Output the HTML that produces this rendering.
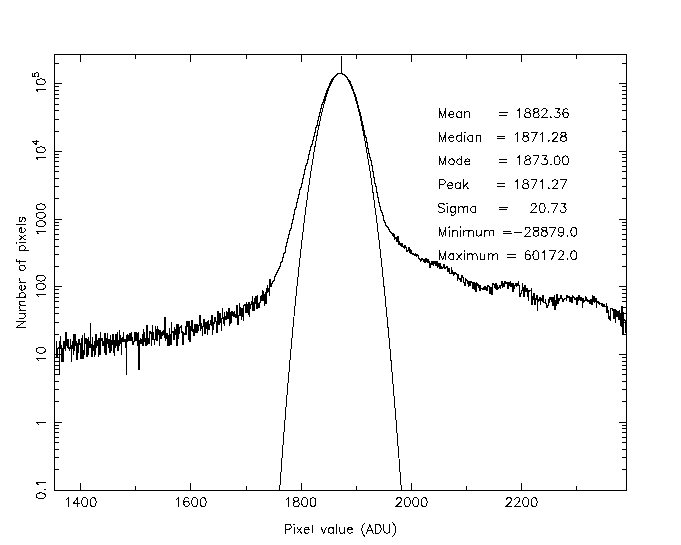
<!DOCTYPE html>
<html><head><meta charset="utf-8"><title>Histogram</title>
<style>
html,body{margin:0;padding:0;background:#fff;font-family:"Liberation Sans",sans-serif;}
body{width:681px;height:545px;overflow:hidden;}
svg{display:block;}
</style></head><body>
<svg width="681" height="545" viewBox="0 0 681 545" shape-rendering="crispEdges">
<rect width="681" height="545" fill="#fff"/>
<g fill="none" stroke="#000" stroke-width="1" stroke-linecap="square">
<path d="M54.5 54.5H626.5V490.5H54.5Z"/>
<path d="M80.5 55v7M80.5 490v-7M190.5 55v7M190.5 490v-7M301.5 55v7M301.5 490v-7M411.5 55v7M411.5 490v-7M521.5 55v7M521.5 490v-7M135.5 55v4M135.5 490v-4M246.5 55v4M246.5 490v-4M356.5 55v4M356.5 490v-4M466.5 55v4M466.5 490v-4M576.5 55v4M576.5 490v-4M55 469.5h4M626 469.5h-4M55 457.5h4M626 457.5h-4M55 449.5h4M626 449.5h-4M55 442.5h4M626 442.5h-4M55 437.5h4M626 437.5h-4M55 432.5h4M626 432.5h-4M55 428.5h4M626 428.5h-4M55 425.5h4M626 425.5h-4M55 422.5h7M626 422.5h-7M55 401.5h4M626 401.5h-4M55 389.5h4M626 389.5h-4M55 381.5h4M626 381.5h-4M55 374.5h4M626 374.5h-4M55 369.5h4M626 369.5h-4M55 365.5h4M626 365.5h-4M55 361.5h4M626 361.5h-4M55 357.5h4M626 357.5h-4M55 354.5h7M626 354.5h-7M55 334.5h4M626 334.5h-4M55 322.5h4M626 322.5h-4M55 313.5h4M626 313.5h-4M55 307.5h4M626 307.5h-4M55 301.5h4M626 301.5h-4M55 297.5h4M626 297.5h-4M55 293.5h4M626 293.5h-4M55 289.5h4M626 289.5h-4M55 286.5h7M626 286.5h-7M55 266.5h4M626 266.5h-4M55 254.5h4M626 254.5h-4M55 246.5h4M626 246.5h-4M55 239.5h4M626 239.5h-4M55 234.5h4M626 234.5h-4M55 229.5h4M626 229.5h-4M55 225.5h4M626 225.5h-4M55 222.5h4M626 222.5h-4M55 219.5h7M626 219.5h-7M55 198.5h4M626 198.5h-4M55 186.5h4M626 186.5h-4M55 178.5h4M626 178.5h-4M55 171.5h4M626 171.5h-4M55 166.5h4M626 166.5h-4M55 161.5h4M626 161.5h-4M55 157.5h4M626 157.5h-4M55 154.5h4M626 154.5h-4M55 151.5h7M626 151.5h-7M55 131.5h4M626 131.5h-4M55 119.5h4M626 119.5h-4M55 110.5h4M626 110.5h-4M55 104.5h4M626 104.5h-4M55 98.5h4M626 98.5h-4M55 94.5h4M626 94.5h-4M55 90.5h4M626 90.5h-4M55 86.5h4M626 86.5h-4M55 83.5h7M626 83.5h-7M55 63.5h4M626 63.5h-4" stroke-linecap="butt"/>
</g>
<g fill="none" stroke="#000" stroke-width="1" stroke-linejoin="miter" stroke-linecap="butt">
<path d="M279.65 490L280.12 483.59L280.59 477.23L281.06 470.93L281.53 464.67L282 458.46L282.47 452.3L282.94 446.19L283.41 440.13L283.88 434.12L284.35 428.16L284.82 422.25L285.29 416.39L285.76 410.58L286.23 404.81L286.7 399.1L287.17 393.44L287.64 387.83L288.11 382.26L288.58 376.75L289.05 371.29L289.52 365.87L289.99 360.51L290.46 355.19L290.93 349.93L291.4 344.71L291.87 339.55L292.34 334.43L292.81 329.36L293.28 324.35L293.75 319.38L294.22 314.46L294.69 309.59L295.16 304.78L295.63 300.01L296.1 295.29L296.57 290.62L297.04 286L297.51 281.43L297.98 276.91L298.45 272.44L298.92 268.02L299.39 263.65L299.86 259.33L300.33 255.05L300.8 250.83L301.27 246.66L301.74 242.54L302.21 238.46L302.68 234.44L303.15 230.47L303.62 226.54L304.09 222.67L304.56 218.84L305.03 215.07L305.5 211.34L305.97 207.67L306.44 204.04L306.91 200.47L307.38 196.94L307.85 193.46L308.32 190.04L308.78 186.66L309.25 183.33L309.72 180.05L310.19 176.82L310.66 173.64L311.13 170.51L311.6 167.43L312.07 164.4L312.54 161.42L313.01 158.49L313.48 155.61L313.95 152.78L314.42 150L314.89 147.27L315.36 144.59L315.83 141.95L316.3 139.37L316.77 136.84L317.24 134.35L317.71 131.92L318.18 129.54L318.65 127.2L319.12 124.92L319.59 122.68L320.06 120.5L320.53 118.36L321 116.27L321.47 114.24L321.94 112.25L322.41 110.31L322.88 108.43L323.35 106.59L323.82 104.8L324.29 103.06L324.76 101.37L325.23 99.73L325.7 98.14L326.17 96.6L326.64 95.11L327.11 93.67L327.58 92.28L328.05 90.94L328.52 89.65L328.99 88.41L329.46 87.22L329.93 86.07L330.4 84.98L330.87 83.94L331.34 82.94L331.81 82L332.28 81.11L332.75 80.26L333.22 79.47L333.69 78.72L334.16 78.03L334.63 77.38L335.1 76.78L335.57 76.24L336.04 75.74L336.51 75.29L336.98 74.9L337.45 74.55L337.92 74.25L338.39 74L338.86 73.8L339.33 73.66L339.8 73.56L340.27 73.51L340.73 73.51L341.2 73.56L341.67 73.66L342.14 73.8L342.61 74L343.08 74.25L343.55 74.55L344.02 74.9L344.49 75.29L344.96 75.74L345.43 76.24L345.9 76.78L346.37 77.38L346.84 78.03L347.31 78.72L347.78 79.47L348.25 80.26L348.72 81.11L349.19 82L349.66 82.94L350.13 83.94L350.6 84.98L351.07 86.07L351.54 87.22L352.01 88.41L352.48 89.65L352.95 90.94L353.42 92.28L353.89 93.67L354.36 95.11L354.83 96.6L355.3 98.14L355.77 99.73L356.24 101.37L356.71 103.06L357.18 104.8L357.65 106.59L358.12 108.43L358.59 110.31L359.06 112.25L359.53 114.24L360 116.27L360.47 118.36L360.94 120.5L361.41 122.68L361.88 124.92L362.35 127.2L362.82 129.54L363.29 131.92L363.76 134.35L364.23 136.84L364.7 139.37L365.17 141.95L365.64 144.59L366.11 147.27L366.58 150L367.05 152.78L367.52 155.61L367.99 158.49L368.46 161.42L368.93 164.4L369.4 167.43L369.87 170.51L370.34 173.64L370.81 176.82L371.28 180.05L371.75 183.33L372.22 186.66L372.68 190.04L373.15 193.46L373.62 196.94L374.09 200.47L374.56 204.04L375.03 207.67L375.5 211.34L375.97 215.07L376.44 218.84L376.91 222.67L377.38 226.54L377.85 230.47L378.32 234.44L378.79 238.46L379.26 242.54L379.73 246.66L380.2 250.83L380.67 255.05L381.14 259.33L381.61 263.65L382.08 268.02L382.55 272.44L383.02 276.91L383.49 281.43L383.96 286L384.43 290.62L384.9 295.29L385.37 300.01L385.84 304.78L386.31 309.59L386.78 314.46L387.25 319.38L387.72 324.35L388.19 329.36L388.66 334.43L389.13 339.55L389.6 344.71L390.07 349.93L390.54 355.19L391.01 360.51L391.48 365.87L391.95 371.29L392.42 376.75L392.89 382.26L393.36 387.83L393.83 393.44L394.3 399.1L394.77 404.81L395.24 410.58L395.71 416.39L396.18 422.25L396.65 428.16L397.12 434.12L397.59 440.13L398.06 446.19L398.53 452.3L399 458.46L399.47 464.67L399.94 470.93L400.41 477.23L400.88 483.59L401.35 490"/>
<path d="M54.5 343.5L54.91 343.5L54.91 354.5L55.33 354.5L55.33 354.5L55.74 354.5L55.74 354.5L56.15 354.5L56.15 341.5L56.57 341.5L56.57 348.5L56.98 348.5L56.98 356.5L57.4 356.5L57.4 353.5L57.81 353.5L57.81 348.5L58.22 348.5L58.22 347.5L58.64 347.5L58.64 348.5L59.05 348.5L59.05 344.5L59.46 344.5L59.46 374.5L59.88 374.5L59.88 341.5L60.29 341.5L60.29 336.5L60.7 336.5L60.7 348.5L61.12 348.5L61.12 345.5L61.53 345.5L61.53 361.5L61.95 361.5L61.95 348.5L62.36 348.5L62.36 350.5L62.77 350.5L62.77 361.5L63.19 361.5L63.19 352.5L63.6 352.5L63.6 341.5L64.01 341.5L64.01 345.5L64.43 345.5L64.43 344.5L64.84 344.5L64.84 348.5L65.25 348.5L65.25 350.5L65.67 350.5L65.67 332.5L66.08 332.5L66.08 344.5L66.5 344.5L66.5 339.5L66.91 339.5L66.91 345.5L67.32 345.5L67.32 347.5L67.74 347.5L67.74 339.5L68.15 339.5L68.15 345.5L68.56 345.5L68.56 348.5L68.98 348.5L68.98 347.5L69.39 347.5L69.39 350.5L69.8 350.5L69.8 348.5L70.22 348.5L70.22 339.5L70.63 339.5L70.63 345.5L71.05 345.5L71.05 350.5L71.46 350.5L71.46 361.5L71.87 361.5L71.87 348.5L72.29 348.5L72.29 341.5L72.7 341.5L72.7 343.5L73.11 343.5L73.11 354.5L73.53 354.5L73.53 354.5L73.94 354.5L73.94 334.5L74.35 334.5L74.35 350.5L74.77 350.5L74.77 334.5L75.18 334.5L75.18 345.5L75.59 345.5L75.59 341.5L76.01 341.5L76.01 347.5L76.42 347.5L76.42 348.5L76.84 348.5L76.84 359.5L77.25 359.5L77.25 352.5L77.66 352.5L77.66 343.5L78.08 343.5L78.08 348.5L78.49 348.5L78.49 352.5L78.9 352.5L78.9 339.5L79.32 339.5L79.32 344.5L79.73 344.5L79.73 344.5L80.14 344.5L80.14 345.5L80.56 345.5L80.56 343.5L80.97 343.5L80.97 358.5L81.39 358.5L81.39 341.5L81.8 341.5L81.8 338.5L82.21 338.5L82.21 335.5L82.63 335.5L82.63 358.5L83.04 358.5L83.04 350.5L83.45 350.5L83.45 352.5L83.87 352.5L83.87 354.5L84.28 354.5L84.28 333.5L84.69 333.5L84.69 339.5L85.11 339.5L85.11 343.5L85.52 343.5L85.52 343.5L85.94 343.5L85.94 338.5L86.35 338.5L86.35 347.5L86.76 347.5L86.76 356.5L87.18 356.5L87.18 339.5L87.59 339.5L87.59 354.5L88 354.5L88 337.5L88.42 337.5L88.42 343.5L88.83 343.5L88.83 341.5L89.24 341.5L89.24 341.5L89.66 341.5L89.66 347.5L90.07 347.5L90.07 323.5L90.49 323.5L90.49 341.5L90.9 341.5L90.9 345.5L91.31 345.5L91.31 344.5L91.73 344.5L91.73 356.5L92.14 356.5L92.14 354.5L92.55 354.5L92.55 337.5L92.97 337.5L92.97 345.5L93.38 345.5L93.38 350.5L93.79 350.5L93.79 347.5L94.21 347.5L94.21 356.5L94.62 356.5L94.62 341.5L95.04 341.5L95.04 354.5L95.45 354.5L95.45 354.5L95.86 354.5L95.86 334.5L96.28 334.5L96.28 347.5L96.69 347.5L96.69 341.5L97.1 341.5L97.1 344.5L97.52 344.5L97.52 345.5L97.93 345.5L97.93 340.5L98.34 340.5L98.34 356.5L98.76 356.5L98.76 338.5L99.17 338.5L99.17 348.5L99.59 348.5L99.59 354.5L100 354.5L100 338.5L100.41 338.5L100.41 332.5L100.83 332.5L100.83 338.5L101.24 338.5L101.24 340.5L101.65 340.5L101.65 338.5L102.07 338.5L102.07 339.5L102.48 339.5L102.48 345.5L102.89 345.5L102.89 341.5L103.31 341.5L103.31 341.5L103.72 341.5L103.72 345.5L104.14 345.5L104.14 333.5L104.55 333.5L104.55 352.5L104.96 352.5L104.96 339.5L105.38 339.5L105.38 333.5L105.79 333.5L105.79 354.5L106.2 354.5L106.2 341.5L106.62 341.5L106.62 338.5L107.03 338.5L107.03 333.5L107.44 333.5L107.44 338.5L107.86 338.5L107.86 343.5L108.27 343.5L108.27 347.5L108.68 347.5L108.68 339.5L109.1 339.5L109.1 348.5L109.51 348.5L109.51 348.5L109.93 348.5L109.93 352.5L110.34 352.5L110.34 335.5L110.75 335.5L110.75 350.5L111.17 350.5L111.17 347.5L111.58 347.5L111.58 347.5L111.99 347.5L111.99 340.5L112.41 340.5L112.41 344.5L112.82 344.5L112.82 334.5L113.23 334.5L113.23 352.5L113.65 352.5L113.65 348.5L114.06 348.5L114.06 343.5L114.48 343.5L114.48 355.5L114.89 355.5L114.89 340.5L115.3 340.5L115.3 347.5L115.72 347.5L115.72 334.5L116.13 334.5L116.13 339.5L116.54 339.5L116.54 345.5L116.96 345.5L116.96 337.5L117.37 337.5L117.37 332.5L117.78 332.5L117.78 350.5L118.2 350.5L118.2 340.5L118.61 340.5L118.61 345.5L119.03 345.5L119.03 338.5L119.44 338.5L119.44 330.5L119.85 330.5L119.85 343.5L120.27 343.5L120.27 335.5L120.68 335.5L120.68 338.5L121.09 338.5L121.09 340.5L121.51 340.5L121.51 354.5L121.92 354.5L121.92 341.5L122.33 341.5L122.33 337.5L122.75 337.5L122.75 337.5L123.16 337.5L123.16 340.5L123.58 340.5L123.58 332.5L123.99 332.5L123.99 341.5L124.4 341.5L124.4 340.5L124.82 340.5L124.82 339.5L125.23 339.5L125.23 347.5L125.64 347.5L125.64 347.5L126.06 347.5L126.06 335.5L126.47 335.5L126.47 374.5L126.88 374.5L126.88 341.5L127.3 341.5L127.3 334.5L127.71 334.5L127.71 338.5L128.13 338.5L128.13 339.5L128.54 339.5L128.54 335.5L128.95 335.5L128.95 340.5L129.37 340.5L129.37 340.5L129.78 340.5L129.78 333.5L130.19 333.5L130.19 333.5L130.61 333.5L130.61 340.5L131.02 340.5L131.02 332.5L131.43 332.5L131.43 339.5L131.85 339.5L131.85 337.5L132.26 337.5L132.26 341.5L132.68 341.5L132.68 344.5L133.09 344.5L133.09 341.5L133.5 341.5L133.5 341.5L133.92 341.5L133.92 341.5L134.33 341.5L134.33 332.5L134.74 332.5L134.74 335.5L135.16 335.5L135.16 332.5L135.57 332.5L135.57 339.5L135.98 339.5L135.98 340.5L136.4 340.5L136.4 332.5L136.81 332.5L136.81 333.5L137.23 333.5L137.23 341.5L137.64 341.5L137.64 345.5L138.05 345.5L138.05 334.5L138.47 334.5L138.47 332.5L138.88 332.5L138.88 369.5L139.29 369.5L139.29 343.5L139.71 343.5L139.71 340.5L140.12 340.5L140.12 343.5L140.53 343.5L140.53 338.5L140.95 338.5L140.95 341.5L141.36 341.5L141.36 343.5L141.77 343.5L141.77 339.5L142.19 339.5L142.19 334.5L142.6 334.5L142.6 345.5L143.02 345.5L143.02 332.5L143.43 332.5L143.43 329.5L143.84 329.5L143.84 335.5L144.26 335.5L144.26 332.5L144.67 332.5L144.67 341.5L145.08 341.5L145.08 338.5L145.5 338.5L145.5 338.5L145.91 338.5L145.91 345.5L146.32 345.5L146.32 344.5L146.74 344.5L146.74 325.5L147.15 325.5L147.15 344.5L147.57 344.5L147.57 337.5L147.98 337.5L147.98 338.5L148.39 338.5L148.39 341.5L148.81 341.5L148.81 343.5L149.22 343.5L149.22 338.5L149.63 338.5L149.63 331.5L150.05 331.5L150.05 333.5L150.46 333.5L150.46 333.5L150.87 333.5L150.87 332.5L151.29 332.5L151.29 345.5L151.7 345.5L151.7 333.5L152.12 333.5L152.12 332.5L152.53 332.5L152.53 325.5L152.94 325.5L152.94 339.5L153.36 339.5L153.36 332.5L153.77 332.5L153.77 339.5L154.18 339.5L154.18 344.5L154.6 344.5L154.6 339.5L155.01 339.5L155.01 326.5L155.42 326.5L155.42 327.5L155.84 327.5L155.84 329.5L156.25 329.5L156.25 340.5L156.67 340.5L156.67 330.5L157.08 330.5L157.08 340.5L157.49 340.5L157.49 326.5L157.91 326.5L157.91 332.5L158.32 332.5L158.32 329.5L158.73 329.5L158.73 334.5L159.15 334.5L159.15 333.5L159.56 333.5L159.56 345.5L159.97 345.5L159.97 330.5L160.39 330.5L160.39 338.5L160.8 338.5L160.8 334.5L161.22 334.5L161.22 338.5L161.63 338.5L161.63 332.5L162.04 332.5L162.04 335.5L162.46 335.5L162.46 331.5L162.87 331.5L162.87 331.5L163.28 331.5L163.28 330.5L163.7 330.5L163.7 334.5L164.11 334.5L164.11 334.5L164.52 334.5L164.52 337.5L164.94 337.5L164.94 317.5L165.35 317.5L165.35 340.5L165.77 340.5L165.77 333.5L166.18 333.5L166.18 338.5L166.59 338.5L166.59 333.5L167.01 333.5L167.01 341.5L167.42 341.5L167.42 333.5L167.83 333.5L167.83 345.5L168.25 345.5L168.25 335.5L168.66 335.5L168.66 345.5L169.07 345.5L169.07 328.5L169.49 328.5L169.49 333.5L169.9 333.5L169.9 335.5L170.32 335.5L170.32 334.5L170.73 334.5L170.73 344.5L171.14 344.5L171.14 322.5L171.56 322.5L171.56 331.5L171.97 331.5L171.97 332.5L172.38 332.5L172.38 331.5L172.8 331.5L172.8 332.5L173.21 332.5L173.21 331.5L173.62 331.5L173.62 339.5L174.04 339.5L174.04 327.5L174.45 327.5L174.45 332.5L174.86 332.5L174.86 333.5L175.28 333.5L175.28 334.5L175.69 334.5L175.69 329.5L176.11 329.5L176.11 324.5L176.52 324.5L176.52 337.5L176.93 337.5L176.93 345.5L177.35 345.5L177.35 338.5L177.76 338.5L177.76 324.5L178.17 324.5L178.17 338.5L178.59 338.5L178.59 332.5L179 332.5L179 332.5L179.41 332.5L179.41 333.5L179.83 333.5L179.83 327.5L180.24 327.5L180.24 326.5L180.66 326.5L180.66 326.5L181.07 326.5L181.07 325.5L181.48 325.5L181.48 332.5L181.9 332.5L181.9 331.5L182.31 331.5L182.31 339.5L182.72 339.5L182.72 344.5L183.14 344.5L183.14 339.5L183.55 339.5L183.55 332.5L183.96 332.5L183.96 334.5L184.38 334.5L184.38 333.5L184.79 333.5L184.79 334.5L185.21 334.5L185.21 326.5L185.62 326.5L185.62 333.5L186.03 333.5L186.03 334.5L186.45 334.5L186.45 331.5L186.86 331.5L186.86 321.5L187.27 321.5L187.27 326.5L187.69 326.5L187.69 326.5L188.1 326.5L188.1 323.5L188.51 323.5L188.51 339.5L188.93 339.5L188.93 321.5L189.34 321.5L189.34 321.5L189.76 321.5L189.76 341.5L190.17 341.5L190.17 330.5L190.58 330.5L190.58 326.5L191 326.5L191 324.5L191.41 324.5L191.41 330.5L191.82 330.5L191.82 320.5L192.24 320.5L192.24 320.5L192.65 320.5L192.65 331.5L193.06 331.5L193.06 329.5L193.48 329.5L193.48 330.5L193.89 330.5L193.89 335.5L194.31 335.5L194.31 324.5L194.72 324.5L194.72 326.5L195.13 326.5L195.13 332.5L195.55 332.5L195.55 332.5L195.96 332.5L195.96 324.5L196.37 324.5L196.37 330.5L196.79 330.5L196.79 332.5L197.2 332.5L197.2 324.5L197.61 324.5L197.61 330.5L198.03 330.5L198.03 326.5L198.44 326.5L198.44 329.5L198.86 329.5L198.86 325.5L199.27 325.5L199.27 324.5L199.68 324.5L199.68 315.5L200.1 315.5L200.1 330.5L200.51 330.5L200.51 317.5L200.92 317.5L200.92 326.5L201.34 326.5L201.34 323.5L201.75 323.5L201.75 328.5L202.16 328.5L202.16 335.5L202.58 335.5L202.58 328.5L202.99 328.5L202.99 326.5L203.41 326.5L203.41 322.5L203.82 322.5L203.82 319.5L204.23 319.5L204.23 333.5L204.65 333.5L204.65 323.5L205.06 323.5L205.06 327.5L205.47 327.5L205.47 333.5L205.89 333.5L205.89 322.5L206.3 322.5L206.3 323.5L206.71 323.5L206.71 328.5L207.13 328.5L207.13 322.5L207.54 322.5L207.54 334.5L207.95 334.5L207.95 321.5L208.37 321.5L208.37 320.5L208.78 320.5L208.78 329.5L209.2 329.5L209.2 327.5L209.61 327.5L209.61 324.5L210.02 324.5L210.02 323.5L210.44 323.5L210.44 324.5L210.85 324.5L210.85 320.5L211.26 320.5L211.26 325.5L211.68 325.5L211.68 315.5L212.09 315.5L212.09 331.5L212.5 331.5L212.5 334.5L212.92 334.5L212.92 322.5L213.33 322.5L213.33 329.5L213.75 329.5L213.75 323.5L214.16 323.5L214.16 320.5L214.57 320.5L214.57 321.5L214.99 321.5L214.99 317.5L215.4 317.5L215.4 319.5L215.81 319.5L215.81 321.5L216.23 321.5L216.23 322.5L216.64 322.5L216.64 332.5L217.05 332.5L217.05 322.5L217.47 322.5L217.47 324.5L217.88 324.5L217.88 311.5L218.3 311.5L218.3 321.5L218.71 321.5L218.71 324.5L219.12 324.5L219.12 323.5L219.54 323.5L219.54 323.5L219.95 323.5L219.95 313.5L220.36 313.5L220.36 316.5L220.78 316.5L220.78 322.5L221.19 322.5L221.19 330.5L221.6 330.5L221.6 318.5L222.02 318.5L222.02 315.5L222.43 315.5L222.43 308.5L222.85 308.5L222.85 317.5L223.26 317.5L223.26 323.5L223.67 323.5L223.67 322.5L224.09 322.5L224.09 312.5L224.5 312.5L224.5 325.5L224.91 325.5L224.91 317.5L225.33 317.5L225.33 319.5L225.74 319.5L225.74 316.5L226.15 316.5L226.15 319.5L226.57 319.5L226.57 311.5L226.98 311.5L226.98 315.5L227.4 315.5L227.4 312.5L227.81 312.5L227.81 318.5L228.22 318.5L228.22 315.5L228.64 315.5L228.64 308.5L229.05 308.5L229.05 322.5L229.46 322.5L229.46 325.5L229.88 325.5L229.88 315.5L230.29 315.5L230.29 323.5L230.7 323.5L230.7 312.5L231.12 312.5L231.12 322.5L231.53 322.5L231.53 314.5L231.95 314.5L231.95 311.5L232.36 311.5L232.36 315.5L232.77 315.5L232.77 315.5L233.19 315.5L233.19 312.5L233.6 312.5L233.6 316.5L234.01 316.5L234.01 311.5L234.43 311.5L234.43 313.5L234.84 313.5L234.84 314.5L235.25 314.5L235.25 315.5L235.67 315.5L235.67 317.5L236.08 317.5L236.08 316.5L236.5 316.5L236.5 315.5L236.91 315.5L236.91 305.5L237.32 305.5L237.32 322.5L237.74 322.5L237.74 324.5L238.15 324.5L238.15 318.5L238.56 318.5L238.56 315.5L238.98 315.5L238.98 315.5L239.39 315.5L239.39 303.5L239.8 303.5L239.8 307.5L240.22 307.5L240.22 315.5L240.63 315.5L240.63 315.5L241.04 315.5L241.04 319.5L241.46 319.5L241.46 308.5L241.87 308.5L241.87 316.5L242.29 316.5L242.29 314.5L242.7 314.5L242.7 308.5L243.11 308.5L243.11 320.5L243.53 320.5L243.53 306.5L243.94 306.5L243.94 305.5L244.35 305.5L244.35 304.5L244.77 304.5L244.77 304.5L245.18 304.5L245.18 307.5L245.59 307.5L245.59 312.5L246.01 312.5L246.01 307.5L246.42 307.5L246.42 302.5L246.84 302.5L246.84 312.5L247.25 312.5L247.25 304.5L247.66 304.5L247.66 308.5L248.08 308.5L248.08 305.5L248.49 305.5L248.49 314.5L248.9 314.5L248.9 302.5L249.32 302.5L249.32 316.5L249.73 316.5L249.73 308.5L250.14 308.5L250.14 305.5L250.56 305.5L250.56 307.5L250.97 307.5L250.97 304.5L251.39 304.5L251.39 303.5L251.8 303.5L251.8 301.5L252.21 301.5L252.21 296.5L252.63 296.5L252.63 310.5L253.04 310.5L253.04 306.5L253.45 306.5L253.45 302.5L253.87 302.5L253.87 310.5L254.28 310.5L254.28 298.5L254.69 298.5L254.69 303.5L255.11 303.5L255.11 302.5L255.52 302.5L255.52 303.5L255.94 303.5L255.94 296.5L256.35 296.5L256.35 306.5L256.76 306.5L256.76 308.5L257.18 308.5L257.18 295.5L257.59 295.5L257.59 304.5L258 304.5L258 303.5L258.42 303.5L258.42 307.5L258.83 307.5L258.83 307.5L259.24 307.5L259.24 302.5L259.66 302.5L259.66 302.5L260.07 302.5L260.07 300.5L260.49 300.5L260.49 296.5L260.9 296.5L260.9 300.5L261.31 300.5L261.31 295.5L261.73 295.5L261.73 297.5L262.14 297.5L262.14 290.5L262.55 290.5L262.55 298.5L262.97 298.5L262.97 300.5L263.38 300.5L263.38 291.5L263.79 291.5L263.79 294.5L264.21 294.5L264.21 305.5L264.62 305.5L264.62 295.5L265.04 295.5L265.04 294.5L265.45 294.5L265.45 292.5L265.86 292.5L265.86 303.5L266.28 303.5L266.28 288.5L266.83 288.5L266.83 292.5L267.38 292.5L267.38 285.5L267.93 285.5L267.93 291.5L268.48 291.5L268.48 288.5L269.03 288.5L269.03 295.5L269.59 295.5L269.59 279.5L270.14 279.5L270.14 284.5L270.69 284.5L270.69 286.5L271.24 286.5L271.24 283.5L271.79 283.5L271.79 283.5L272.34 283.5L272.34 282.5L272.89 282.5L272.89 281.5L273.45 281.5L273.45 280.5L274 280.5L274 279.5L274.55 279.5L274.55 276.5L275.1 276.5L275.1 276.5L275.65 276.5L275.65 274.5L276.2 274.5L276.2 274.5L276.75 274.5L276.75 272.5L277.31 272.5L277.31 271.5L277.86 271.5L277.86 270.5L278.41 270.5L278.41 269.5L278.96 269.5L278.96 268.5L279.51 268.5L279.51 266.5L280.06 266.5L280.06 266.5L280.62 266.5L280.62 262.5L281.17 262.5L281.17 262.5L281.72 262.5L281.72 261.5L282.27 261.5L282.27 258.5L282.82 258.5L282.82 257.5L283.37 257.5L283.37 254.5L283.92 254.5L283.92 253.5L284.48 253.5L284.48 252.5L285.03 252.5L285.03 249.5L285.58 249.5L285.58 246.5L286.13 246.5L286.13 244.5L286.68 244.5L286.68 242.5L287.23 242.5L287.23 240.5L287.78 240.5L287.78 238.5L288.34 238.5L288.34 236.5L288.89 236.5L288.89 234.5L289.44 234.5L289.44 232.5L289.99 232.5L289.99 230.5L290.54 230.5L290.54 228.5L291.09 228.5L291.09 226.5L291.65 226.5L291.65 223.5L292.2 223.5L292.2 221.5L292.75 221.5L292.75 219.5L293.3 219.5L293.3 217.5L293.85 217.5L293.85 214.5L294.4 214.5L294.4 212.5L294.95 212.5L294.95 209.5L295.51 209.5L295.51 207.5L296.06 207.5L296.06 205.5L296.61 205.5L296.61 202.5L297.16 202.5L297.16 201.5L297.71 201.5L297.71 198.5L298.26 198.5L298.26 196.5L298.81 196.5L298.81 194.5L299.37 194.5L299.37 191.5L299.92 191.5L299.92 189.5L300.47 189.5L300.47 187.5L301.02 187.5L301.02 185.5L301.57 185.5L301.57 183.5L302.12 183.5L302.12 181.5L302.68 181.5L302.68 178.5L303.23 178.5L303.23 176.5L303.78 176.5L303.78 174.5L304.33 174.5L304.33 172.5L304.88 172.5L304.88 169.5L305.43 169.5L305.43 167.5L305.98 167.5L305.98 165.5L306.54 165.5L306.54 163.5L307.09 163.5L307.09 161.5L307.64 161.5L307.64 159.5L308.19 159.5L308.19 156.5L308.74 156.5L308.74 154.5L309.29 154.5L309.29 152.5L309.84 152.5L309.84 150.5L310.4 150.5L310.4 148.5L310.95 148.5L310.95 146.5L311.5 146.5L311.5 144.5L312.05 144.5L312.05 142.5L312.6 142.5L312.6 140.5L313.15 140.5L313.15 138.5L313.71 138.5L313.71 136.5L314.26 136.5L314.26 134.5L314.81 134.5L314.81 132.5L315.36 132.5L315.36 130.5L315.91 130.5L315.91 127.5L316.46 127.5L316.46 125.5L317.01 125.5L317.01 122.5L317.57 122.5L317.57 120.5L318.12 120.5L318.12 118.5L318.67 118.5L318.67 116.5L319.22 116.5L319.22 114.5L319.77 114.5L319.77 112.5L320.32 112.5L320.32 110.5L320.87 110.5L320.87 108.5L321.43 108.5L321.43 106.5L321.98 106.5L321.98 104.5L322.53 104.5L322.53 102.5L323.08 102.5L323.08 100.5L323.63 100.5L323.63 99.5L324.18 99.5L324.18 97.5L324.74 97.5L324.74 96.5L325.29 96.5L325.29 94.5L325.84 94.5L325.84 93.5L326.39 93.5L326.39 91.5L326.94 91.5L326.94 90.5L327.49 90.5L327.49 88.5L328.04 88.5L328.04 87.5L328.6 87.5L328.6 86.5L329.15 86.5L329.15 84.5L329.7 84.5L329.7 83.5L330.25 83.5L330.25 82.5L330.8 82.5L330.8 81.5L331.35 81.5L331.35 80.5L331.9 80.5L331.9 79.5L332.46 79.5L332.46 78.5L333.01 78.5L333.01 77.5L333.56 77.5L333.56 77.5L334.11 77.5L334.11 76.5L334.66 76.5L334.66 76.5L335.21 76.5L335.21 75.5L335.76 75.5L335.76 75.5L336.32 75.5L336.32 74.5L336.87 74.5L336.87 74.5L337.42 74.5L337.42 73.5L337.97 73.5L337.97 73.5L338.52 73.5L338.52 73.5L339.07 73.5L339.07 73.5L339.63 73.5L339.63 73.5L340.18 73.5L340.18 73.5L340.73 73.5L340.73 73.5L341.28 73.5L341.28 73.5L341.83 73.5L341.83 73.5L342.38 73.5L342.38 73.5L342.93 73.5L342.93 74.5L343.49 74.5L343.49 74.5L344.04 74.5L344.04 74.5L344.59 74.5L344.59 75.5L345.14 75.5L345.14 75.5L345.69 75.5L345.69 76.5L346.24 76.5L346.24 76.5L346.8 76.5L346.8 77.5L347.35 77.5L347.35 78.5L347.9 78.5L347.9 79.5L348.45 79.5L348.45 80.5L349 80.5L349 81.5L349.55 81.5L349.55 81.5L350.1 81.5L350.1 83.5L350.66 83.5L350.66 84.5L351.21 84.5L351.21 85.5L351.76 85.5L351.76 86.5L352.31 86.5L352.31 88.5L352.86 88.5L352.86 89.5L353.41 89.5L353.41 91.5L353.96 91.5L353.96 92.5L354.52 92.5L354.52 94.5L355.07 94.5L355.07 95.5L355.62 95.5L355.62 97.5L356.17 97.5L356.17 99.5L356.72 99.5L356.72 101.5L357.27 101.5L357.27 103.5L357.83 103.5L357.83 105.5L358.38 105.5L358.38 107.5L358.93 107.5L358.93 109.5L359.48 109.5L359.48 112.5L360.03 112.5L360.03 114.5L360.58 114.5L360.58 116.5L361.13 116.5L361.13 119.5L361.69 119.5L361.69 121.5L362.24 121.5L362.24 123.5L362.79 123.5L362.79 125.5L363.34 125.5L363.34 128.5L363.89 128.5L363.89 130.5L364.44 130.5L364.44 132.5L364.99 132.5L364.99 135.5L365.55 135.5L365.55 137.5L366.1 137.5L366.1 140.5L366.65 140.5L366.65 142.5L367.2 142.5L367.2 145.5L367.75 145.5L367.75 148.5L368.3 148.5L368.3 150.5L368.86 150.5L368.86 153.5L369.41 153.5L369.41 155.5L369.96 155.5L369.96 157.5L370.51 157.5L370.51 160.5L371.06 160.5L371.06 163.5L371.61 163.5L371.61 165.5L372.16 165.5L372.16 168.5L372.72 168.5L372.72 171.5L373.27 171.5L373.27 174.5L373.82 174.5L373.82 177.5L374.37 177.5L374.37 180.5L374.92 180.5L374.92 183.5L375.47 183.5L375.47 186.5L376.02 186.5L376.02 188.5L376.58 188.5L376.58 192.5L377.13 192.5L377.13 194.5L377.68 194.5L377.68 197.5L378.23 197.5L378.23 200.5L378.78 200.5L378.78 202.5L379.33 202.5L379.33 204.5L379.88 204.5L379.88 206.5L380.44 206.5L380.44 208.5L380.99 208.5L380.99 210.5L381.54 210.5L381.54 212.5L382.09 212.5L382.09 214.5L382.64 214.5L382.64 215.5L383.19 215.5L383.19 217.5L383.75 217.5L383.75 220.5L384.3 220.5L384.3 221.5L384.85 221.5L384.85 222.5L385.4 222.5L385.4 224.5L385.95 224.5L385.95 225.5L386.5 225.5L386.5 226.5L387.05 226.5L387.05 226.5L387.61 226.5L387.61 227.5L388.16 227.5L388.16 229.5L388.71 229.5L388.71 229.5L389.26 229.5L389.26 229.5L389.81 229.5L389.81 231.5L390.36 231.5L390.36 232.5L390.92 232.5L390.92 232.5L391.47 232.5L391.47 233.5L392.02 233.5L392.02 235.5L392.57 235.5L392.57 233.5L393.12 233.5L393.12 236.5L393.67 236.5L393.67 234.5L394.22 234.5L394.22 239.5L394.78 239.5L394.78 237.5L395.33 237.5L395.33 238.5L395.88 238.5L395.88 237.5L396.43 237.5L396.43 241.5L396.98 241.5L396.98 241.5L397.53 241.5L397.53 236.5L398.08 236.5L398.08 242.5L398.64 242.5L398.64 244.5L399.19 244.5L399.19 241.5L399.74 241.5L399.74 243.5L400.29 243.5L400.29 243.5L400.84 243.5L400.84 245.5L401.39 245.5L401.39 246.5L401.95 246.5L401.95 243.5L402.5 243.5L402.5 246.5L403.05 246.5L403.05 246.5L403.6 246.5L403.6 247.5L404.15 247.5L404.15 248.5L404.7 248.5L404.7 245.5L405.25 245.5L405.25 247.5L405.81 247.5L405.81 247.5L406.36 247.5L406.36 250.5L406.91 250.5L406.91 251.5L407.46 251.5L407.46 250.5L408.01 250.5L408.01 249.5L408.56 249.5L408.56 247.5L409.11 247.5L409.11 252.5L409.67 252.5L409.67 249.5L410.22 249.5L410.22 253.5L410.77 253.5L410.77 250.5L411.32 250.5L411.32 251.5L411.87 251.5L411.87 253.5L412.42 253.5L412.42 254.5L412.98 254.5L412.98 253.5L413.53 253.5L413.53 254.5L414.08 254.5L414.08 254.5L414.63 254.5L414.63 255.5L415.18 255.5L415.18 253.5L415.73 253.5L415.73 254.5L416.28 254.5L416.28 256.5L416.84 256.5L416.84 254.5L417.39 254.5L417.39 254.5L417.94 254.5L417.94 255.5L418.49 255.5L418.49 258.5L419.04 258.5L419.04 258.5L419.59 258.5L419.59 259.5L420.14 259.5L420.14 261.5L420.7 261.5L420.7 259.5L421.25 259.5L421.25 260.5L421.8 260.5L421.8 258.5L422.35 258.5L422.35 259.5L422.9 259.5L422.9 259.5L423.45 259.5L423.45 261.5L424 261.5L424 259.5L424.56 259.5L424.56 262.5L425.11 262.5L425.11 259.5L425.66 259.5L425.66 258.5L426.21 258.5L426.21 261.5L426.76 261.5L426.76 259.5L427.31 259.5L427.31 261.5L427.87 261.5L427.87 262.5L428.42 262.5L428.42 259.5L428.97 259.5L428.97 261.5L429.52 261.5L429.52 267.5L430.07 267.5L430.07 263.5L430.62 263.5L430.62 264.5L431.17 264.5L431.17 261.5L431.73 261.5L431.73 264.5L432.28 264.5L432.28 261.5L432.83 261.5L432.83 261.5L433.38 261.5L433.38 265.5L433.93 265.5L433.93 263.5L434.48 263.5L434.48 261.5L435.04 261.5L435.04 263.5L435.59 263.5L435.59 265.5L436.14 265.5L436.14 261.5L436.69 261.5L436.69 261.5L437.24 261.5L437.24 267.5L437.79 267.5L437.79 266.5L438.34 266.5L438.34 265.5L438.9 265.5L438.9 263.5L439.45 263.5L439.45 268.5L440 268.5L440 263.5L440.55 263.5L440.55 266.5L441.1 266.5L441.1 268.5L441.65 268.5L441.65 268.5L442.2 268.5L442.2 267.5L442.76 267.5L442.76 267.5L443.31 267.5L443.31 264.5L443.86 264.5L443.86 264.5L444.41 264.5L444.41 265.5L444.96 265.5L444.96 268.5L445.51 268.5L445.51 267.5L446.07 267.5L446.07 266.5L446.62 266.5L446.62 266.5L447.17 266.5L447.17 271.5L447.72 271.5L447.72 271.5L448.27 271.5L448.27 269.5L448.82 269.5L448.82 268.5L449.37 268.5L449.37 272.5L449.93 272.5L449.93 273.5L450.48 273.5L450.48 273.5L451.03 273.5L451.03 267.5L451.58 267.5L451.58 271.5L452.13 271.5L452.13 270.5L452.68 270.5L452.68 273.5L453.23 273.5L453.23 275.5L453.79 275.5L453.79 272.5L454.34 272.5L454.34 274.5L454.89 274.5L454.89 273.5L455.44 273.5L455.44 272.5L455.99 272.5L455.99 273.5L456.54 273.5L456.54 274.5L457.1 274.5L457.1 280.5L457.65 280.5L457.65 276.5L458.2 276.5L458.2 274.5L458.75 274.5L458.75 278.5L459.3 278.5L459.3 279.5L459.85 279.5L459.85 278.5L460.4 278.5L460.4 279.5L460.96 279.5L460.96 281.5L461.51 281.5L461.51 275.5L462.06 275.5L462.06 276.5L462.61 276.5L462.61 277.5L463.16 277.5L463.16 281.5L463.71 281.5L463.71 282.5L464.26 282.5L464.26 284.5L464.82 284.5L464.82 285.5L465.37 285.5L465.37 278.5L465.92 278.5L465.92 279.5L466.47 279.5L466.47 280.5L467.02 280.5L467.02 280.5L467.57 280.5L467.57 283.5L468.12 283.5L468.12 286.5L468.68 286.5L468.68 281.5L469.23 281.5L469.23 283.5L469.78 283.5L469.78 285.5L470.33 285.5L470.33 282.5L470.88 282.5L470.88 281.5L471.43 281.5L471.43 282.5L471.99 282.5L471.99 282.5L472.54 282.5L472.54 288.5L473.09 288.5L473.09 282.5L473.64 282.5L473.64 282.5L474.19 282.5L474.19 289.5L474.74 289.5L474.74 283.5L475.29 283.5L475.29 284.5L475.85 284.5L475.85 291.5L476.4 291.5L476.4 282.5L476.95 282.5L476.95 283.5L477.5 283.5L477.5 285.5L478.05 285.5L478.05 284.5L478.6 284.5L478.6 287.5L479.15 287.5L479.15 285.5L479.71 285.5L479.71 290.5L480.26 290.5L480.26 285.5L480.81 285.5L480.81 288.5L481.36 288.5L481.36 288.5L481.91 288.5L481.91 288.5L482.46 288.5L482.46 289.5L483.02 289.5L483.02 287.5L483.57 287.5L483.57 289.5L484.12 289.5L484.12 286.5L484.67 286.5L484.67 288.5L485.22 288.5L485.22 286.5L485.77 286.5L485.77 289.5L486.32 289.5L486.32 287.5L486.88 287.5L486.88 290.5L487.43 290.5L487.43 290.5L487.98 290.5L487.98 285.5L488.53 285.5L488.53 286.5L489.08 286.5L489.08 287.5L489.63 287.5L489.63 293.5L490.19 293.5L490.19 288.5L490.74 288.5L490.74 287.5L491.29 287.5L491.29 290.5L491.84 290.5L491.84 294.5L492.39 294.5L492.39 289.5L492.94 289.5L492.94 283.5L493.49 283.5L493.49 284.5L494.05 284.5L494.05 286.5L494.6 286.5L494.6 287.5L495.15 287.5L495.15 288.5L495.7 288.5L495.7 283.5L496.25 283.5L496.25 284.5L496.8 284.5L496.8 289.5L497.35 289.5L497.35 285.5L497.91 285.5L497.91 288.5L498.46 288.5L498.46 287.5L499.01 287.5L499.01 285.5L499.56 285.5L499.56 287.5L500.11 287.5L500.11 288.5L500.66 288.5L500.66 285.5L501.22 285.5L501.22 285.5L501.77 285.5L501.77 281.5L502.32 281.5L502.32 287.5L502.87 287.5L502.87 283.5L503.42 283.5L503.42 285.5L503.97 285.5L503.97 286.5L504.52 286.5L504.52 281.5L505.08 281.5L505.08 283.5L505.63 283.5L505.63 282.5L506.18 282.5L506.18 282.5L506.73 282.5L506.73 283.5L507.28 283.5L507.28 282.5L507.83 282.5L507.83 288.5L508.38 288.5L508.38 288.5L508.94 288.5L508.94 282.5L509.49 282.5L509.49 285.5L510.04 285.5L510.04 281.5L510.59 281.5L510.59 286.5L511.14 286.5L511.14 283.5L511.69 283.5L511.69 283.5L512.25 283.5L512.25 283.5L512.8 283.5L512.8 291.5L513.35 291.5L513.35 283.5L513.9 283.5L513.9 288.5L514.45 288.5L514.45 285.5L515 285.5L515 284.5L515.55 284.5L515.55 283.5L516.11 283.5L516.11 286.5L516.66 286.5L516.66 284.5L517.21 284.5L517.21 285.5L517.76 285.5L517.76 283.5L518.31 283.5L518.31 281.5L518.86 281.5L518.86 285.5L519.41 285.5L519.41 288.5L519.97 288.5L519.97 296.5L520.52 296.5L520.52 293.5L521.07 293.5L521.07 291.5L521.62 291.5L521.62 290.5L522.17 290.5L522.17 283.5L522.72 283.5L522.72 288.5L523.27 288.5L523.27 287.5L523.83 287.5L523.83 296.5L524.38 296.5L524.38 294.5L524.93 294.5L524.93 285.5L525.48 285.5L525.48 291.5L526.03 291.5L526.03 288.5L526.58 288.5L526.58 288.5L527.14 288.5L527.14 294.5L527.69 294.5L527.69 296.5L528.24 296.5L528.24 300.5L528.79 300.5L528.79 290.5L529.34 290.5L529.34 291.5L529.89 291.5L529.89 290.5L530.44 290.5L530.44 290.5L531 290.5L531 288.5L531.55 288.5L531.55 304.5L532.1 304.5L532.1 296.5L532.65 296.5L532.65 299.5L533.2 299.5L533.2 293.5L533.75 293.5L533.75 293.5L534.31 293.5L534.31 301.5L534.86 301.5L534.86 304.5L535.41 304.5L535.41 298.5L535.96 298.5L535.96 299.5L536.51 299.5L536.51 295.5L537.06 295.5L537.06 310.5L537.61 310.5L537.61 299.5L538.17 299.5L538.17 301.5L538.72 301.5L538.72 300.5L539.27 300.5L539.27 299.5L539.82 299.5L539.82 297.5L540.37 297.5L540.37 304.5L540.92 304.5L540.92 298.5L541.47 298.5L541.47 300.5L542.03 300.5L542.03 301.5L542.58 301.5L542.58 295.5L543.13 295.5L543.13 295.5L543.68 295.5L543.68 302.5L544.23 302.5L544.23 302.5L544.78 302.5L544.78 302.5L545.34 302.5L545.34 299.5L545.89 299.5L545.89 303.5L546.44 303.5L546.44 303.5L546.99 303.5L546.99 307.5L547.54 307.5L547.54 305.5L548.09 305.5L548.09 299.5L548.64 299.5L548.64 302.5L549.2 302.5L549.2 300.5L549.75 300.5L549.75 297.5L550.3 297.5L550.3 297.5L550.85 297.5L550.85 299.5L551.4 299.5L551.4 301.5L551.95 301.5L551.95 297.5L552.5 297.5L552.5 305.5L553.06 305.5L553.06 300.5L553.61 300.5L553.61 297.5L554.16 297.5L554.16 295.5L554.71 295.5L554.71 309.5L555.26 309.5L555.26 300.5L555.81 300.5L555.81 305.5L556.37 305.5L556.37 298.5L556.92 298.5L556.92 294.5L557.47 294.5L557.47 303.5L558.02 303.5L558.02 298.5L558.57 298.5L558.57 300.5L559.12 300.5L559.12 299.5L559.67 299.5L559.67 298.5L560.23 298.5L560.23 298.5L560.78 298.5L560.78 295.5L561.33 295.5L561.33 296.5L561.88 296.5L561.88 298.5L562.43 298.5L562.43 300.5L562.98 300.5L562.98 301.5L563.53 301.5L563.53 299.5L564.09 299.5L564.09 299.5L564.64 299.5L564.64 298.5L565.19 298.5L565.19 298.5L565.74 298.5L565.74 298.5L566.29 298.5L566.29 300.5L566.84 300.5L566.84 295.5L567.39 295.5L567.39 296.5L567.95 296.5L567.95 297.5L568.5 297.5L568.5 296.5L569.05 296.5L569.05 299.5L569.6 299.5L569.6 301.5L570.15 301.5L570.15 301.5L570.7 301.5L570.7 297.5L571.26 297.5L571.26 298.5L571.81 298.5L571.81 302.5L572.36 302.5L572.36 295.5L572.91 295.5L572.91 296.5L573.46 296.5L573.46 297.5L574.01 297.5L574.01 299.5L574.56 299.5L574.56 298.5L575.12 298.5L575.12 298.5L575.67 298.5L575.67 299.5L576.22 299.5L576.22 297.5L576.77 297.5L576.77 304.5L577.32 304.5L577.32 299.5L577.87 299.5L577.87 297.5L578.43 297.5L578.43 300.5L578.98 300.5L578.98 295.5L579.53 295.5L579.53 299.5L580.08 299.5L580.08 297.5L580.63 297.5L580.63 300.5L581.18 300.5L581.18 297.5L581.73 297.5L581.73 299.5L582.29 299.5L582.29 307.5L582.84 307.5L582.84 298.5L583.39 298.5L583.39 302.5L583.94 302.5L583.94 301.5L584.49 301.5L584.49 300.5L585.04 300.5L585.04 296.5L585.59 296.5L585.59 300.5L586.15 300.5L586.15 297.5L586.7 297.5L586.7 299.5L587.25 299.5L587.25 300.5L587.8 300.5L587.8 301.5L588.35 301.5L588.35 300.5L588.9 300.5L588.9 300.5L589.46 300.5L589.46 303.5L590.01 303.5L590.01 299.5L590.56 299.5L590.56 300.5L591.11 300.5L591.11 299.5L591.66 299.5L591.66 304.5L592.21 304.5L592.21 295.5L592.76 295.5L592.76 296.5L593.32 296.5L593.32 301.5L593.87 301.5L593.87 296.5L594.42 296.5L594.42 302.5L594.97 302.5L594.97 301.5L595.52 301.5L595.52 298.5L596.07 298.5L596.07 307.5L596.62 307.5L596.62 301.5L597.18 301.5L597.18 302.5L597.73 302.5L597.73 301.5L598.28 301.5L598.28 303.5L598.83 303.5L598.83 302.5L599.38 302.5L599.38 304.5L599.93 304.5L599.93 303.5L600.49 303.5L600.49 303.5L601.04 303.5L601.04 303.5L601.59 303.5L601.59 305.5L602.14 305.5L602.14 303.5L602.69 303.5L602.69 306.5L603.24 306.5L603.24 306.5L603.79 306.5L603.79 304.5L604.35 304.5L604.35 304.5L604.9 304.5L604.9 306.5L605.45 306.5L605.45 306.5L606 306.5L606 303.5L606.55 303.5L606.55 312.5L607.1 312.5L607.1 306.5L607.65 306.5L607.65 310.5L608.21 310.5L608.21 315.5L608.76 315.5L608.76 318.5L609.31 318.5L609.31 316.5L609.86 316.5L609.86 319.5L610.41 319.5L610.41 320.5L610.96 320.5L610.96 308.5L611.52 308.5L611.52 308.5L612.07 308.5L612.07 310.5L612.62 310.5L612.62 309.5L613.17 309.5L613.17 317.5L613.72 317.5L613.72 318.5L614.27 318.5L614.27 317.5L614.82 317.5L614.82 309.5L615.38 309.5L615.38 322.5L615.93 322.5L615.93 310.5L616.48 310.5L616.48 316.5L617.03 316.5L617.03 315.5L617.58 315.5L617.58 311.5L618.13 311.5L618.13 317.5L618.68 317.5L618.68 319.5L619.24 319.5L619.24 310.5L619.79 310.5L619.79 313.5L620.34 313.5L620.34 321.5L620.89 321.5L620.89 325.5L621.44 325.5L621.44 326.5L621.99 326.5L621.99 306.5L622.55 306.5L622.55 334.5L623.1 334.5L623.1 312.5L623.65 312.5L623.65 319.5L624.2 319.5L624.2 320.5L624.75 320.5L624.75 320.5L625.3 320.5L625.3 332.5L625.85 332.5L625.85 329.5L626.41 329.5L626.41 321.5L626.5 321.5"/>
<path d="M341.5 56V74"/>
</g>
<g fill="none" stroke="#000" stroke-width="1" stroke-linecap="round" stroke-linejoin="round">
<path d="M66.22 499.36L67.06 498.94L68.32 497.68L68.32 506.5M77.56 497.68L73.36 503.56L79.66 503.56M77.56 497.68L77.56 506.5M84.28 497.68L83.02 498.1L82.18 499.36L81.76 501.46L81.76 502.72L82.18 504.82L83.02 506.08L84.28 506.5L85.12 506.5L86.38 506.08L87.22 504.82L87.64 502.72L87.64 501.46L87.22 499.36L86.38 498.1L85.12 497.68L84.28 497.68M92.68 497.68L91.42 498.1L90.58 499.36L90.16 501.46L90.16 502.72L90.58 504.82L91.42 506.08L92.68 506.5L93.52 506.5L94.78 506.08L95.62 504.82L96.04 502.72L96.04 501.46L95.62 499.36L94.78 498.1L93.52 497.68L92.68 497.68M176.22 499.36L177.06 498.94L178.32 497.68L178.32 506.5M188.82 498.94L188.4 498.1L187.14 497.68L186.3 497.68L185.04 498.1L184.2 499.36L183.78 501.46L183.78 503.56L184.2 505.24L185.04 506.08L186.3 506.5L186.72 506.5L187.98 506.08L188.82 505.24L189.24 503.98L189.24 503.56L188.82 502.3L187.98 501.46L186.72 501.04L186.3 501.04L185.04 501.46L184.2 502.3L183.78 503.56M194.28 497.68L193.02 498.1L192.18 499.36L191.76 501.46L191.76 502.72L192.18 504.82L193.02 506.08L194.28 506.5L195.12 506.5L196.38 506.08L197.22 504.82L197.64 502.72L197.64 501.46L197.22 499.36L196.38 498.1L195.12 497.68L194.28 497.68M202.68 497.68L201.42 498.1L200.58 499.36L200.16 501.46L200.16 502.72L200.58 504.82L201.42 506.08L202.68 506.5L203.52 506.5L204.78 506.08L205.62 504.82L206.04 502.72L206.04 501.46L205.62 499.36L204.78 498.1L203.52 497.68L202.68 497.68M286.12 499.36L286.96 498.94L288.22 497.68L288.22 506.5M295.36 497.68L294.1 498.1L293.68 498.94L293.68 499.78L294.1 500.62L294.94 501.04L296.62 501.46L297.88 501.88L298.72 502.72L299.14 503.56L299.14 504.82L298.72 505.66L298.3 506.08L297.04 506.5L295.36 506.5L294.1 506.08L293.68 505.66L293.26 504.82L293.26 503.56L293.68 502.72L294.52 501.88L295.78 501.46L297.46 501.04L298.3 500.62L298.72 499.78L298.72 498.94L298.3 498.1L297.04 497.68L295.36 497.68M304.18 497.68L302.92 498.1L302.08 499.36L301.66 501.46L301.66 502.72L302.08 504.82L302.92 506.08L304.18 506.5L305.02 506.5L306.28 506.08L307.12 504.82L307.54 502.72L307.54 501.46L307.12 499.36L306.28 498.1L305.02 497.68L304.18 497.68M312.58 497.68L311.32 498.1L310.48 499.36L310.06 501.46L310.06 502.72L310.48 504.82L311.32 506.08L312.58 506.5L313.42 506.5L314.68 506.08L315.52 504.82L315.94 502.72L315.94 501.46L315.52 499.36L314.68 498.1L313.42 497.68L312.58 497.68M396.38 499.78L396.38 499.36L396.8 498.52L397.22 498.1L398.06 497.68L399.74 497.68L400.58 498.1L401 498.52L401.42 499.36L401.42 500.2L401 501.04L400.16 502.3L395.96 506.5L401.84 506.5M406.88 497.68L405.62 498.1L404.78 499.36L404.36 501.46L404.36 502.72L404.78 504.82L405.62 506.08L406.88 506.5L407.72 506.5L408.98 506.08L409.82 504.82L410.24 502.72L410.24 501.46L409.82 499.36L408.98 498.1L407.72 497.68L406.88 497.68M415.28 497.68L414.02 498.1L413.18 499.36L412.76 501.46L412.76 502.72L413.18 504.82L414.02 506.08L415.28 506.5L416.12 506.5L417.38 506.08L418.22 504.82L418.64 502.72L418.64 501.46L418.22 499.36L417.38 498.1L416.12 497.68L415.28 497.68M423.68 497.68L422.42 498.1L421.58 499.36L421.16 501.46L421.16 502.72L421.58 504.82L422.42 506.08L423.68 506.5L424.52 506.5L425.78 506.08L426.62 504.82L427.04 502.72L427.04 501.46L426.62 499.36L425.78 498.1L424.52 497.68L423.68 497.68M506.38 499.78L506.38 499.36L506.8 498.52L507.22 498.1L508.06 497.68L509.74 497.68L510.58 498.1L511 498.52L511.42 499.36L511.42 500.2L511 501.04L510.16 502.3L505.96 506.5L511.84 506.5M514.78 499.78L514.78 499.36L515.2 498.52L515.62 498.1L516.46 497.68L518.14 497.68L518.98 498.1L519.4 498.52L519.82 499.36L519.82 500.2L519.4 501.04L518.56 502.3L514.36 506.5L520.24 506.5M525.28 497.68L524.02 498.1L523.18 499.36L522.76 501.46L522.76 502.72L523.18 504.82L524.02 506.08L525.28 506.5L526.12 506.5L527.38 506.08L528.22 504.82L528.64 502.72L528.64 501.46L528.22 499.36L527.38 498.1L526.12 497.68L525.28 497.68M533.68 497.68L532.42 498.1L531.58 499.36L531.16 501.46L531.16 502.72L531.58 504.82L532.42 506.08L533.68 506.5L534.52 506.5L535.78 506.08L536.62 504.82L537.04 502.72L537.04 501.46L536.62 499.36L535.78 498.1L534.52 497.68L533.68 497.68M285.38 524.56L285.38 533.3M285.38 524.56L289.12 524.56L290.37 524.98L290.79 525.4L291.2 526.23L291.2 527.48L290.79 528.31L290.37 528.72L289.12 529.14L285.38 529.14M293.7 524.56L294.12 524.98L294.53 524.56L294.12 524.15L293.7 524.56M294.12 527.48L294.12 533.3M297.03 527.48L301.6 533.3M301.6 527.48L297.03 533.3M304.1 529.97L309.09 529.97L309.09 529.14L308.68 528.31L308.26 527.89L307.43 527.48L306.18 527.48L305.35 527.89L304.52 528.72L304.1 529.97L304.1 530.8L304.52 532.05L305.35 532.88L306.18 533.3L307.43 533.3L308.26 532.88L309.09 532.05M312 524.56L312 533.3M321.16 527.48L323.65 533.3M326.15 527.48L323.65 533.3M333.22 527.48L333.22 533.3M333.22 528.72L332.39 527.89L331.56 527.48L330.31 527.48L329.48 527.89L328.64 528.72L328.23 529.97L328.23 530.8L328.64 532.05L329.48 532.88L330.31 533.3L331.56 533.3L332.39 532.88L333.22 532.05M336.55 524.56L336.55 533.3M339.88 527.48L339.88 531.64L340.29 532.88L341.12 533.3L342.37 533.3L343.2 532.88L344.45 531.64M344.45 527.48L344.45 533.3M347.36 529.97L352.36 529.97L352.36 529.14L351.94 528.31L351.52 527.89L350.69 527.48L349.44 527.48L348.61 527.89L347.78 528.72L347.36 529.97L347.36 530.8L347.78 532.05L348.61 532.88L349.44 533.3L350.69 533.3L351.52 532.88L352.36 532.05M364.84 522.9L364 523.73L363.17 524.98L362.34 526.64L361.92 528.72L361.92 530.39L362.34 532.47L363.17 534.13L364 535.38L364.84 536.21M369.83 524.56L366.5 533.3M369.83 524.56L373.16 533.3M367.75 530.39L371.91 530.39M375.24 524.56L375.24 533.3M375.24 524.56L378.15 524.56L379.4 524.98L380.23 525.81L380.64 526.64L381.06 527.89L381.06 529.97L380.64 531.22L380.23 532.05L379.4 532.88L378.15 533.3L375.24 533.3M383.97 524.56L383.97 530.8L384.39 532.05L385.22 532.88L386.47 533.3L387.3 533.3L388.55 532.88L389.38 532.05L389.8 530.8L389.8 524.56M392.71 522.9L393.54 523.73L394.37 524.98L395.2 526.64L395.62 528.72L395.62 530.39L395.2 532.47L394.37 534.13L393.54 535.38L392.71 536.21M16.46 327.2L25.2 327.2M16.46 327.2L25.2 321.38M16.46 321.38L25.2 321.38M19.38 318.05L23.54 318.05L24.78 317.64L25.2 316.8L25.2 315.56L24.78 314.72L23.54 313.48M19.38 313.48L25.2 313.48M19.38 310.15L25.2 310.15M21.04 310.15L19.79 308.9L19.38 308.07L19.38 306.82L19.79 305.99L21.04 305.57L25.2 305.57M21.04 305.57L19.79 304.32L19.38 303.49L19.38 302.24L19.79 301.41L21.04 301L25.2 301M16.46 297.67L25.2 297.67M20.62 297.67L19.79 296.84L19.38 296L19.38 294.76L19.79 293.92L20.62 293.09L21.87 292.68L22.7 292.68L23.95 293.09L24.78 293.92L25.2 294.76L25.2 296L24.78 296.84L23.95 297.67M21.87 290.18L21.87 285.19L21.04 285.19L20.21 285.6L19.79 286.02L19.38 286.85L19.38 288.1L19.79 288.93L20.62 289.76L21.87 290.18L22.7 290.18L23.95 289.76L24.78 288.93L25.2 288.1L25.2 286.85L24.78 286.02L23.95 285.19M19.38 282.28L25.2 282.28M21.87 282.28L20.62 281.86L19.79 281.03L19.38 280.2L19.38 278.95M19.38 268.55L19.79 269.38L20.62 270.21L21.87 270.63L22.7 270.63L23.95 270.21L24.78 269.38L25.2 268.55L25.2 267.3L24.78 266.47L23.95 265.64L22.7 265.22L21.87 265.22L20.62 265.64L19.79 266.47L19.38 267.3L19.38 268.55M16.46 259.81L16.46 260.64L16.88 261.48L18.13 261.89L25.2 261.89M19.38 263.14L19.38 260.23M19.38 250.66L28.11 250.66M20.62 250.66L19.79 249.83L19.38 249L19.38 247.75L19.79 246.92L20.62 246.08L21.87 245.67L22.7 245.67L23.95 246.08L24.78 246.92L25.2 247.75L25.2 249L24.78 249.83L23.95 250.66M16.46 243.17L16.88 242.76L16.46 242.34L16.05 242.76L16.46 243.17M19.38 242.76L25.2 242.76M19.38 239.84L25.2 235.27M19.38 235.27L25.2 239.84M21.87 232.77L21.87 227.78L21.04 227.78L20.21 228.2L19.79 228.61L19.38 229.44L19.38 230.69L19.79 231.52L20.62 232.36L21.87 232.77L22.7 232.77L23.95 232.36L24.78 231.52L25.2 230.69L25.2 229.44L24.78 228.61L23.95 227.78M16.46 224.87L25.2 224.87M20.62 217.38L19.79 217.8L19.38 219.04L19.38 220.29L19.79 221.54L20.62 221.96L21.46 221.54L21.87 220.71L22.29 218.63L22.7 217.8L23.54 217.38L23.95 217.38L24.78 217.8L25.2 219.04L25.2 220.29L24.78 221.54L23.95 221.96M36.48 496.22L36.9 497.48L38.16 498.32L40.26 498.74L41.52 498.74L43.62 498.32L44.88 497.48L45.3 496.22L45.3 495.38L44.88 494.12L43.62 493.28L41.52 492.86L40.26 492.86L38.16 493.28L36.9 494.12L36.48 495.38L36.48 496.22M44.46 489.5L44.88 489.92L45.3 489.5L44.88 489.08L44.46 489.5M38.16 484.88L37.74 484.04L36.48 482.78L45.3 482.78M38.16 424.18L37.74 423.34L36.48 422.08L45.3 422.08M38.16 360.38L37.74 359.54L36.48 358.28L45.3 358.28M36.48 350.72L36.9 351.98L38.16 352.82L40.26 353.24L41.52 353.24L43.62 352.82L44.88 351.98L45.3 350.72L45.3 349.88L44.88 348.62L43.62 347.78L41.52 347.36L40.26 347.36L38.16 347.78L36.9 348.62L36.48 349.88L36.48 350.72M38.16 296.58L37.74 295.74L36.48 294.48L45.3 294.48M36.48 286.92L36.9 288.18L38.16 289.02L40.26 289.44L41.52 289.44L43.62 289.02L44.88 288.18L45.3 286.92L45.3 286.08L44.88 284.82L43.62 283.98L41.52 283.56L40.26 283.56L38.16 283.98L36.9 284.82L36.48 286.08L36.48 286.92M36.48 278.52L36.9 279.78L38.16 280.62L40.26 281.04L41.52 281.04L43.62 280.62L44.88 279.78L45.3 278.52L45.3 277.68L44.88 276.42L43.62 275.58L41.52 275.16L40.26 275.16L38.16 275.58L36.9 276.42L36.48 277.68L36.48 278.52M38.16 233.78L37.74 232.94L36.48 231.68L45.3 231.68M36.48 224.12L36.9 225.38L38.16 226.22L40.26 226.64L41.52 226.64L43.62 226.22L44.88 225.38L45.3 224.12L45.3 223.28L44.88 222.02L43.62 221.18L41.52 220.76L40.26 220.76L38.16 221.18L36.9 222.02L36.48 223.28L36.48 224.12M36.48 215.72L36.9 216.98L38.16 217.82L40.26 218.24L41.52 218.24L43.62 217.82L44.88 216.98L45.3 215.72L45.3 214.88L44.88 213.62L43.62 212.78L41.52 212.36L40.26 212.36L38.16 212.78L36.9 213.62L36.48 214.88L36.48 215.72M36.48 207.32L36.9 208.58L38.16 209.42L40.26 209.84L41.52 209.84L43.62 209.42L44.88 208.58L45.3 207.32L45.3 206.48L44.88 205.22L43.62 204.38L41.52 203.96L40.26 203.96L38.16 204.38L36.9 205.22L36.48 206.48L36.48 207.32M38.16 159.98L37.74 159.14L36.48 157.88L45.3 157.88M36.48 150.32L36.9 151.58L38.16 152.42L40.26 152.84L41.52 152.84L43.62 152.42L44.88 151.58L45.3 150.32L45.3 149.48L44.88 148.22L43.62 147.38L41.52 146.96L40.26 146.96L38.16 147.38L36.9 148.22L36.48 149.48L36.48 150.32M32.61 141.94L36.67 144.83L36.67 140.49M32.61 141.94L38.7 141.94M38.16 91.98L37.74 91.14L36.48 89.88L45.3 89.88M36.48 82.32L36.9 83.58L38.16 84.42L40.26 84.84L41.52 84.84L43.62 84.42L44.88 83.58L45.3 82.32L45.3 81.48L44.88 80.22L43.62 79.38L41.52 78.96L40.26 78.96L38.16 79.38L36.9 80.22L36.48 81.48L36.48 82.32M32.61 73.36L32.61 76.26L35.22 76.54L34.93 76.26L34.64 75.39L34.64 74.52L34.93 73.65L35.51 73.07L36.38 72.78L36.96 72.78L37.83 73.07L38.41 73.65L38.7 74.52L38.7 75.39L38.41 76.26L38.12 76.54L37.54 76.83M439.2 108.78L439.2 117.6M439.2 108.78L442.56 117.6M445.92 108.78L442.56 117.6M445.92 108.78L445.92 117.6M448.86 114.24L453.9 114.24L453.9 113.4L453.48 112.56L453.06 112.14L452.22 111.72L450.96 111.72L450.12 112.14L449.28 112.98L448.86 114.24L448.86 115.08L449.28 116.34L450.12 117.18L450.96 117.6L452.22 117.6L453.06 117.18L453.9 116.34M461.46 111.72L461.46 117.6M461.46 112.98L460.62 112.14L459.78 111.72L458.52 111.72L457.68 112.14L456.84 112.98L456.42 114.24L456.42 115.08L456.84 116.34L457.68 117.18L458.52 117.6L459.78 117.6L460.62 117.18L461.46 116.34M464.82 111.72L464.82 117.6M464.82 113.4L466.08 112.14L466.92 111.72L468.18 111.72L469.02 112.14L469.44 113.4L469.44 117.6M499.5 112.56L507.06 112.56M499.5 115.08L507.06 115.08M517.6 110.46L518.44 110.04L519.7 108.78L519.7 117.6M526.84 108.78L525.58 109.2L525.16 110.04L525.16 110.88L525.58 111.72L526.42 112.14L528.1 112.56L529.36 112.98L530.2 113.82L530.62 114.66L530.62 115.92L530.2 116.76L529.78 117.18L528.52 117.6L526.84 117.6L525.58 117.18L525.16 116.76L524.74 115.92L524.74 114.66L525.16 113.82L526 112.98L527.26 112.56L528.94 112.14L529.78 111.72L530.2 110.88L530.2 110.04L529.78 109.2L528.52 108.78L526.84 108.78M535.24 108.78L533.98 109.2L533.56 110.04L533.56 110.88L533.98 111.72L534.82 112.14L536.5 112.56L537.76 112.98L538.6 113.82L539.02 114.66L539.02 115.92L538.6 116.76L538.18 117.18L536.92 117.6L535.24 117.6L533.98 117.18L533.56 116.76L533.14 115.92L533.14 114.66L533.56 113.82L534.4 112.98L535.66 112.56L537.34 112.14L538.18 111.72L538.6 110.88L538.6 110.04L538.18 109.2L536.92 108.78L535.24 108.78M541.96 110.88L541.96 110.46L542.38 109.62L542.8 109.2L543.64 108.78L545.32 108.78L546.16 109.2L546.58 109.62L547 110.46L547 111.3L546.58 112.14L545.74 113.4L541.54 117.6L547.42 117.6M550.78 116.76L550.36 117.18L550.78 117.6L551.2 117.18L550.78 116.76M554.98 108.78L559.6 108.78L557.08 112.14L558.34 112.14L559.18 112.56L559.6 112.98L560.02 114.24L560.02 115.08L559.6 116.34L558.76 117.18L557.5 117.6L556.24 117.6L554.98 117.18L554.56 116.76L554.14 115.92M568 110.04L567.58 109.2L566.32 108.78L565.48 108.78L564.22 109.2L563.38 110.46L562.96 112.56L562.96 114.66L563.38 116.34L564.22 117.18L565.48 117.6L565.9 117.6L567.16 117.18L568 116.34L568.42 115.08L568.42 114.66L568 113.4L567.16 112.56L565.9 112.14L565.48 112.14L564.22 112.56L563.38 113.4L562.96 114.66M439.2 132.48L439.2 141.3M439.2 132.48L442.56 141.3M445.92 132.48L442.56 141.3M445.92 132.48L445.92 141.3M448.86 137.94L453.9 137.94L453.9 137.1L453.48 136.26L453.06 135.84L452.22 135.42L450.96 135.42L450.12 135.84L449.28 136.68L448.86 137.94L448.86 138.78L449.28 140.04L450.12 140.88L450.96 141.3L452.22 141.3L453.06 140.88L453.9 140.04M461.46 132.48L461.46 141.3M461.46 136.68L460.62 135.84L459.78 135.42L458.52 135.42L457.68 135.84L456.84 136.68L456.42 137.94L456.42 138.78L456.84 140.04L457.68 140.88L458.52 141.3L459.78 141.3L460.62 140.88L461.46 140.04M464.4 132.48L464.82 132.9L465.24 132.48L464.82 132.06L464.4 132.48M464.82 135.42L464.82 141.3M472.8 135.42L472.8 141.3M472.8 136.68L471.96 135.84L471.12 135.42L469.86 135.42L469.02 135.84L468.18 136.68L467.76 137.94L467.76 138.78L468.18 140.04L469.02 140.88L469.86 141.3L471.12 141.3L471.96 140.88L472.8 140.04M476.16 135.42L476.16 141.3M476.16 137.1L477.42 135.84L478.26 135.42L479.52 135.42L480.36 135.84L480.78 137.1L480.78 141.3M497 136.26L504.56 136.26M497 138.78L504.56 138.78M515.6 134.16L516.44 133.74L517.7 132.48L517.7 141.3M524.84 132.48L523.58 132.9L523.16 133.74L523.16 134.58L523.58 135.42L524.42 135.84L526.1 136.26L527.36 136.68L528.2 137.52L528.62 138.36L528.62 139.62L528.2 140.46L527.78 140.88L526.52 141.3L524.84 141.3L523.58 140.88L523.16 140.46L522.74 139.62L522.74 138.36L523.16 137.52L524 136.68L525.26 136.26L526.94 135.84L527.78 135.42L528.2 134.58L528.2 133.74L527.78 132.9L526.52 132.48L524.84 132.48M537.02 132.48L532.82 141.3M531.14 132.48L537.02 132.48M540.8 134.16L541.64 133.74L542.9 132.48L542.9 141.3M548.78 140.46L548.36 140.88L548.78 141.3L549.2 140.88L548.78 140.46M552.56 134.58L552.56 134.16L552.98 133.32L553.4 132.9L554.24 132.48L555.92 132.48L556.76 132.9L557.18 133.32L557.6 134.16L557.6 135L557.18 135.84L556.34 137.1L552.14 141.3L558.02 141.3M562.64 132.48L561.38 132.9L560.96 133.74L560.96 134.58L561.38 135.42L562.22 135.84L563.9 136.26L565.16 136.68L566 137.52L566.42 138.36L566.42 139.62L566 140.46L565.58 140.88L564.32 141.3L562.64 141.3L561.38 140.88L560.96 140.46L560.54 139.62L560.54 138.36L560.96 137.52L561.8 136.68L563.06 136.26L564.74 135.84L565.58 135.42L566 134.58L566 133.74L565.58 132.9L564.32 132.48L562.64 132.48M439.2 155.98L439.2 164.8M439.2 155.98L442.56 164.8M445.92 155.98L442.56 164.8M445.92 155.98L445.92 164.8M450.96 158.92L450.12 159.34L449.28 160.18L448.86 161.44L448.86 162.28L449.28 163.54L450.12 164.38L450.96 164.8L452.22 164.8L453.06 164.38L453.9 163.54L454.32 162.28L454.32 161.44L453.9 160.18L453.06 159.34L452.22 158.92L450.96 158.92M461.88 155.98L461.88 164.8M461.88 160.18L461.04 159.34L460.2 158.92L458.94 158.92L458.1 159.34L457.26 160.18L456.84 161.44L456.84 162.28L457.26 163.54L458.1 164.38L458.94 164.8L460.2 164.8L461.04 164.38L461.88 163.54M464.82 161.44L469.86 161.44L469.86 160.6L469.44 159.76L469.02 159.34L468.18 158.92L466.92 158.92L466.08 159.34L465.24 160.18L464.82 161.44L464.82 162.28L465.24 163.54L466.08 164.38L466.92 164.8L468.18 164.8L469.02 164.38L469.86 163.54M499.5 159.76L507.06 159.76M499.5 162.28L507.06 162.28M517.6 157.66L518.44 157.24L519.7 155.98L519.7 164.8M526.84 155.98L525.58 156.4L525.16 157.24L525.16 158.08L525.58 158.92L526.42 159.34L528.1 159.76L529.36 160.18L530.2 161.02L530.62 161.86L530.62 163.12L530.2 163.96L529.78 164.38L528.52 164.8L526.84 164.8L525.58 164.38L525.16 163.96L524.74 163.12L524.74 161.86L525.16 161.02L526 160.18L527.26 159.76L528.94 159.34L529.78 158.92L530.2 158.08L530.2 157.24L529.78 156.4L528.52 155.98L526.84 155.98M539.02 155.98L534.82 164.8M533.14 155.98L539.02 155.98M542.38 155.98L547 155.98L544.48 159.34L545.74 159.34L546.58 159.76L547 160.18L547.42 161.44L547.42 162.28L547 163.54L546.16 164.38L544.9 164.8L543.64 164.8L542.38 164.38L541.96 163.96L541.54 163.12M550.78 163.96L550.36 164.38L550.78 164.8L551.2 164.38L550.78 163.96M556.66 155.98L555.4 156.4L554.56 157.66L554.14 159.76L554.14 161.02L554.56 163.12L555.4 164.38L556.66 164.8L557.5 164.8L558.76 164.38L559.6 163.12L560.02 161.02L560.02 159.76L559.6 157.66L558.76 156.4L557.5 155.98L556.66 155.98M565.06 155.98L563.8 156.4L562.96 157.66L562.54 159.76L562.54 161.02L562.96 163.12L563.8 164.38L565.06 164.8L565.9 164.8L567.16 164.38L568 163.12L568.42 161.02L568.42 159.76L568 157.66L567.16 156.4L565.9 155.98L565.06 155.98M439.2 179.78L439.2 188.6M439.2 179.78L442.98 179.78L444.24 180.2L444.66 180.62L445.08 181.46L445.08 182.72L444.66 183.56L444.24 183.98L442.98 184.4L439.2 184.4M447.6 185.24L452.64 185.24L452.64 184.4L452.22 183.56L451.8 183.14L450.96 182.72L449.7 182.72L448.86 183.14L448.02 183.98L447.6 185.24L447.6 186.08L448.02 187.34L448.86 188.18L449.7 188.6L450.96 188.6L451.8 188.18L452.64 187.34M460.2 182.72L460.2 188.6M460.2 183.98L459.36 183.14L458.52 182.72L457.26 182.72L456.42 183.14L455.58 183.98L455.16 185.24L455.16 186.08L455.58 187.34L456.42 188.18L457.26 188.6L458.52 188.6L459.36 188.18L460.2 187.34M463.56 179.78L463.56 188.6M467.76 182.72L463.56 186.92M465.24 185.24L468.18 188.6M497 183.56L504.56 183.56M497 186.08L504.56 186.08M515.6 181.46L516.44 181.04L517.7 179.78L517.7 188.6M524.84 179.78L523.58 180.2L523.16 181.04L523.16 181.88L523.58 182.72L524.42 183.14L526.1 183.56L527.36 183.98L528.2 184.82L528.62 185.66L528.62 186.92L528.2 187.76L527.78 188.18L526.52 188.6L524.84 188.6L523.58 188.18L523.16 187.76L522.74 186.92L522.74 185.66L523.16 184.82L524 183.98L525.26 183.56L526.94 183.14L527.78 182.72L528.2 181.88L528.2 181.04L527.78 180.2L526.52 179.78L524.84 179.78M537.02 179.78L532.82 188.6M531.14 179.78L537.02 179.78M540.8 181.46L541.64 181.04L542.9 179.78L542.9 188.6M548.78 187.76L548.36 188.18L548.78 188.6L549.2 188.18L548.78 187.76M552.56 181.88L552.56 181.46L552.98 180.62L553.4 180.2L554.24 179.78L555.92 179.78L556.76 180.2L557.18 180.62L557.6 181.46L557.6 182.3L557.18 183.14L556.34 184.4L552.14 188.6L558.02 188.6M566.42 179.78L562.22 188.6M560.54 179.78L566.42 179.78M444.28 204.84L443.44 204L442.18 203.58L440.5 203.58L439.24 204L438.4 204.84L438.4 205.68L438.82 206.52L439.24 206.94L440.08 207.36L442.6 208.2L443.44 208.62L443.86 209.04L444.28 209.88L444.28 211.14L443.44 211.98L442.18 212.4L440.5 212.4L439.24 211.98L438.4 211.14M446.8 203.58L447.22 204L447.64 203.58L447.22 203.16L446.8 203.58M447.22 206.52L447.22 212.4M455.2 206.52L455.2 213.24L454.78 214.5L454.36 214.92L453.52 215.34L452.26 215.34L451.42 214.92M455.2 207.78L454.36 206.94L453.52 206.52L452.26 206.52L451.42 206.94L450.58 207.78L450.16 209.04L450.16 209.88L450.58 211.14L451.42 211.98L452.26 212.4L453.52 212.4L454.36 211.98L455.2 211.14M458.56 206.52L458.56 212.4M458.56 208.2L459.82 206.94L460.66 206.52L461.92 206.52L462.76 206.94L463.18 208.2L463.18 212.4M463.18 208.2L464.44 206.94L465.28 206.52L466.54 206.52L467.38 206.94L467.8 208.2L467.8 212.4M475.78 206.52L475.78 212.4M475.78 207.78L474.94 206.94L474.1 206.52L472.84 206.52L472 206.94L471.16 207.78L470.74 209.04L470.74 209.88L471.16 211.14L472 211.98L472.84 212.4L474.1 212.4L474.94 211.98L475.78 211.14M499.5 207.36L507.06 207.36M499.5 209.88L507.06 209.88M531.22 205.68L531.22 205.26L531.64 204.42L532.06 204L532.9 203.58L534.58 203.58L535.42 204L535.84 204.42L536.26 205.26L536.26 206.1L535.84 206.94L535 208.2L530.8 212.4L536.68 212.4M541.72 203.58L540.46 204L539.62 205.26L539.2 207.36L539.2 208.62L539.62 210.72L540.46 211.98L541.72 212.4L542.56 212.4L543.82 211.98L544.66 210.72L545.08 208.62L545.08 207.36L544.66 205.26L543.82 204L542.56 203.58L541.72 203.58M548.44 211.56L548.02 211.98L548.44 212.4L548.86 211.98L548.44 211.56M557.68 203.58L553.48 212.4M551.8 203.58L557.68 203.58M561.04 203.58L565.66 203.58L563.14 206.94L564.4 206.94L565.24 207.36L565.66 207.78L566.08 209.04L566.08 209.88L565.66 211.14L564.82 211.98L563.56 212.4L562.3 212.4L561.04 211.98L560.62 211.56L560.2 210.72M439.2 227.28L439.2 236.1M439.2 227.28L442.56 236.1M445.92 227.28L442.56 236.1M445.92 227.28L445.92 236.1M448.86 227.28L449.28 227.7L449.7 227.28L449.28 226.86L448.86 227.28M449.28 230.22L449.28 236.1M452.64 230.22L452.64 236.1M452.64 231.9L453.9 230.64L454.74 230.22L456 230.22L456.84 230.64L457.26 231.9L457.26 236.1M460.2 227.28L460.62 227.7L461.04 227.28L460.62 226.86L460.2 227.28M460.62 230.22L460.62 236.1M463.98 230.22L463.98 236.1M463.98 231.9L465.24 230.64L466.08 230.22L467.34 230.22L468.18 230.64L468.6 231.9L468.6 236.1M468.6 231.9L469.86 230.64L470.7 230.22L471.96 230.22L472.8 230.64L473.22 231.9L473.22 236.1M476.58 230.22L476.58 234.42L477 235.68L477.84 236.1L479.1 236.1L479.94 235.68L481.2 234.42M481.2 230.22L481.2 236.1M484.56 230.22L484.56 236.1M484.56 231.9L485.82 230.64L486.66 230.22L487.92 230.22L488.76 230.64L489.18 231.9L489.18 236.1M489.18 231.9L490.44 230.64L491.28 230.22L492.54 230.22L493.38 230.64L493.8 231.9L493.8 236.1M503.6 231.06L511.16 231.06M503.6 233.58L511.16 233.58M514.2 232.32L521.76 232.32M525.12 229.38L525.12 228.96L525.54 228.12L525.96 227.7L526.8 227.28L528.48 227.28L529.32 227.7L529.74 228.12L530.16 228.96L530.16 229.8L529.74 230.64L528.9 231.9L524.7 236.1L530.58 236.1M535.2 227.28L533.94 227.7L533.52 228.54L533.52 229.38L533.94 230.22L534.78 230.64L536.46 231.06L537.72 231.48L538.56 232.32L538.98 233.16L538.98 234.42L538.56 235.26L538.14 235.68L536.88 236.1L535.2 236.1L533.94 235.68L533.52 235.26L533.1 234.42L533.1 233.16L533.52 232.32L534.36 231.48L535.62 231.06L537.3 230.64L538.14 230.22L538.56 229.38L538.56 228.54L538.14 227.7L536.88 227.28L535.2 227.28M543.6 227.28L542.34 227.7L541.92 228.54L541.92 229.38L542.34 230.22L543.18 230.64L544.86 231.06L546.12 231.48L546.96 232.32L547.38 233.16L547.38 234.42L546.96 235.26L546.54 235.68L545.28 236.1L543.6 236.1L542.34 235.68L541.92 235.26L541.5 234.42L541.5 233.16L541.92 232.32L542.76 231.48L544.02 231.06L545.7 230.64L546.54 230.22L546.96 229.38L546.96 228.54L546.54 227.7L545.28 227.28L543.6 227.28M555.78 227.28L551.58 236.1M549.9 227.28L555.78 227.28M563.76 230.22L563.34 231.48L562.5 232.32L561.24 232.74L560.82 232.74L559.56 232.32L558.72 231.48L558.3 230.22L558.3 229.8L558.72 228.54L559.56 227.7L560.82 227.28L561.24 227.28L562.5 227.7L563.34 228.54L563.76 230.22L563.76 232.32L563.34 234.42L562.5 235.68L561.24 236.1L560.4 236.1L559.14 235.68L558.72 234.84M567.54 235.26L567.12 235.68L567.54 236.1L567.96 235.68L567.54 235.26M573.42 227.28L572.16 227.7L571.32 228.96L570.9 231.06L570.9 232.32L571.32 234.42L572.16 235.68L573.42 236.1L574.26 236.1L575.52 235.68L576.36 234.42L576.78 232.32L576.78 231.06L576.36 228.96L575.52 227.7L574.26 227.28L573.42 227.28M439.2 250.88L439.2 259.7M439.2 250.88L442.56 259.7M445.92 250.88L442.56 259.7M445.92 250.88L445.92 259.7M453.9 253.82L453.9 259.7M453.9 255.08L453.06 254.24L452.22 253.82L450.96 253.82L450.12 254.24L449.28 255.08L448.86 256.34L448.86 257.18L449.28 258.44L450.12 259.28L450.96 259.7L452.22 259.7L453.06 259.28L453.9 258.44M456.84 253.82L461.46 259.7M461.46 253.82L456.84 259.7M463.98 250.88L464.4 251.3L464.82 250.88L464.4 250.46L463.98 250.88M464.4 253.82L464.4 259.7M467.76 253.82L467.76 259.7M467.76 255.5L469.02 254.24L469.86 253.82L471.12 253.82L471.96 254.24L472.38 255.5L472.38 259.7M472.38 255.5L473.64 254.24L474.48 253.82L475.74 253.82L476.58 254.24L477 255.5L477 259.7M480.36 253.82L480.36 258.02L480.78 259.28L481.62 259.7L482.88 259.7L483.72 259.28L484.98 258.02M484.98 253.82L484.98 259.7M488.34 253.82L488.34 259.7M488.34 255.5L489.6 254.24L490.44 253.82L491.7 253.82L492.54 254.24L492.96 255.5L492.96 259.7M492.96 255.5L494.22 254.24L495.06 253.82L496.32 253.82L497.16 254.24L497.58 255.5L497.58 259.7M507.6 254.66L515.16 254.66M507.6 257.18L515.16 257.18M530.04 252.14L529.62 251.3L528.36 250.88L527.52 250.88L526.26 251.3L525.42 252.56L525 254.66L525 256.76L525.42 258.44L526.26 259.28L527.52 259.7L527.94 259.7L529.2 259.28L530.04 258.44L530.46 257.18L530.46 256.76L530.04 255.5L529.2 254.66L527.94 254.24L527.52 254.24L526.26 254.66L525.42 255.5L525 256.76M535.5 250.88L534.24 251.3L533.4 252.56L532.98 254.66L532.98 255.92L533.4 258.02L534.24 259.28L535.5 259.7L536.34 259.7L537.6 259.28L538.44 258.02L538.86 255.92L538.86 254.66L538.44 252.56L537.6 251.3L536.34 250.88L535.5 250.88M542.64 252.56L543.48 252.14L544.74 250.88L544.74 259.7M555.66 250.88L551.46 259.7M549.78 250.88L555.66 250.88M558.6 252.98L558.6 252.56L559.02 251.72L559.44 251.3L560.28 250.88L561.96 250.88L562.8 251.3L563.22 251.72L563.64 252.56L563.64 253.4L563.22 254.24L562.38 255.5L558.18 259.7L564.06 259.7M567.42 258.86L567 259.28L567.42 259.7L567.84 259.28L567.42 258.86M573.3 250.88L572.04 251.3L571.2 252.56L570.78 254.66L570.78 255.92L571.2 258.02L572.04 259.28L573.3 259.7L574.14 259.7L575.4 259.28L576.24 258.02L576.66 255.92L576.66 254.66L576.24 252.56L575.4 251.3L574.14 250.88L573.3 250.88"/>
</g>
</svg>
</body></html>
